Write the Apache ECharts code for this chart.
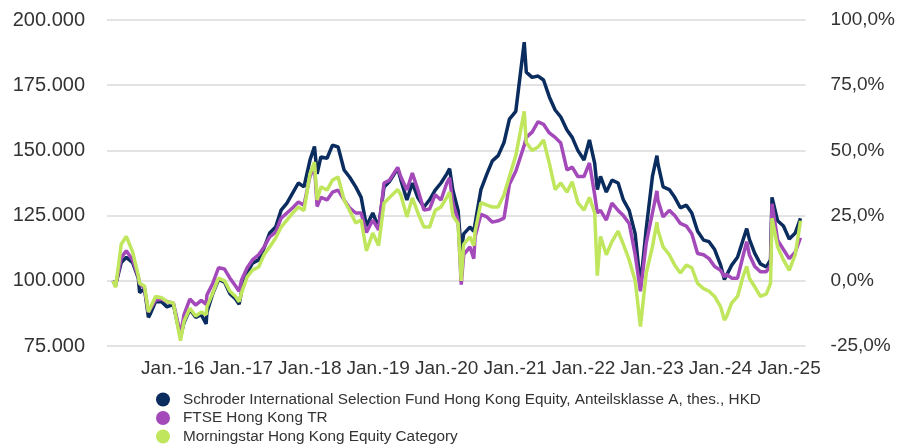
<!DOCTYPE html>
<html>
<head>
<meta charset="utf-8">
<script src="https://cdn.jsdelivr.net/npm/echarts@6/dist/echarts.min.js"></script>
<style>
  html, body { margin: 0; padding: 0; background: #fff; }
  #chart { width: 898px; height: 447px; }
</style>
</head>
<body>
<div id="chart"></div>
<script>
// growth of 100.000 (values in thousands)
var dates = [
  '2015-02-16','2015-03-02','2015-04-01','2015-04-28','2015-06-01','2015-07-01','2015-07-08','2015-08-03','2015-08-24','2015-09-01',
  '2015-10-01','2015-11-02','2015-12-01','2016-01-04','2016-02-11','2016-03-01','2016-04-01','2016-05-02','2016-06-01','2016-06-27',
  '2016-07-01','2016-08-01','2016-09-01','2016-10-03','2016-11-01','2016-12-01','2016-12-20','2017-01-02','2017-02-01','2017-03-01',
  '2017-04-03','2017-05-02','2017-06-01','2017-07-03','2017-08-01','2017-09-01','2017-10-02','2017-11-01','2017-12-01','2018-01-02',
  '2018-01-26','2018-02-09','2018-03-01','2018-04-03','2018-05-02','2018-06-01','2018-07-03','2018-08-01','2018-09-03','2018-10-02',
  '2018-10-30','2018-12-03','2019-01-03','2019-02-01','2019-03-01','2019-04-15','2019-05-02','2019-06-03','2019-07-02','2019-08-01',
  '2019-09-02','2019-10-02','2019-11-01','2019-12-02','2020-01-02','2020-01-17','2020-02-03','2020-03-02','2020-03-19','2020-04-01',
  '2020-05-04','2020-05-25','2020-06-01','2020-07-02','2020-08-03','2020-09-01','2020-10-02','2020-11-02','2020-12-01','2021-01-04',
  '2021-02-18','2021-03-01','2021-04-01','2021-05-03','2021-06-01','2021-07-02','2021-08-02','2021-09-01','2021-10-04','2021-11-01',
  '2021-12-01','2022-01-03','2022-02-01','2022-03-01','2022-03-15','2022-04-01','2022-05-02','2022-06-01','2022-07-04','2022-08-01',
  '2022-09-01','2022-10-03','2022-10-31','2022-12-01','2023-01-03','2023-01-27','2023-02-01','2023-03-01','2023-04-03','2023-05-02',
  '2023-06-01','2023-07-03','2023-08-01','2023-09-01','2023-10-03','2023-11-01','2023-12-01','2024-01-02','2024-01-22','2024-02-01',
  '2024-03-01','2024-04-01','2024-05-02','2024-05-20','2024-06-03','2024-07-02','2024-08-01','2024-09-02','2024-09-24','2024-10-02',
  '2024-11-01','2024-12-02','2025-01-02','2025-02-03','2025-03-03'
];

var fund = [
  100, 98.5, 107, 109, 107, 101, 95.5, 97, 86, 87,
  92, 92, 90, 91, 78.5, 84, 89, 86, 87, 83.5,
  88, 95, 100.5, 99.5, 95, 93, 91, 96, 103, 106.8,
  108, 112.6, 118.3, 120.6, 127.1, 129.8, 133.7, 137.5, 136, 146.3,
  151.5, 141, 147.5, 147, 152, 151.3, 142.5, 139.8, 136, 132,
  121, 126, 120.5, 136, 138, 143, 138.6, 131, 137.5, 131.8,
  128.3, 131, 134.8, 137.5, 141, 143, 134.8, 127, 111.5, 118,
  120.6, 119, 122, 135, 141, 146, 148, 153, 162, 165,
  191.5, 180, 178, 178.5, 177, 170.5, 165.5, 162.8, 157.8, 155,
  150, 146.3, 154, 145, 135, 140, 134, 138.6, 137.5, 131,
  127, 118, 98, 120, 140, 148, 145, 136, 135, 132,
  128, 129, 126, 119, 115.6, 115, 112, 106, 100.5, 101,
  106, 109, 116, 120, 116, 110.5, 106.5, 105.3, 108, 132,
  123, 121, 116, 118.3, 124
];

var ftse = [
  100, 98, 109, 111.5, 108, 101.5, 99, 97, 88, 88,
  92.5, 93, 92, 91.5, 79.5, 87, 93, 90.7, 92.5, 91,
  94.5, 99, 105, 104.5, 101, 98, 96, 100.3, 105, 108,
  110, 113, 116.8, 118.7, 124, 126, 128, 130.2, 129, 140,
  144, 128.5, 132, 131, 134, 134.8, 131, 128, 126, 126,
  118.5, 123.3, 119.5, 137.5, 138.5, 143.5, 139.8, 134.8, 141.3, 134.8,
  127.1, 127.5, 133, 131, 137.5, 139.5, 129.8, 123.3, 98.5, 110,
  113, 108.5, 117, 125.5, 124.5, 122.5, 123, 124, 137, 142,
  152, 155, 157, 161, 160, 156.7, 155, 152.8, 142.5, 143.6,
  140, 140, 145.2, 133, 126, 127, 123.3, 129.8, 127, 125,
  122, 110, 96, 114.5, 126, 134.5, 131, 124.5, 127, 125,
  122, 121, 118, 110.5, 110, 108.5, 105.5, 104, 101.5, 102.5,
  101, 101, 110, 115, 110, 105.5, 103.5, 103.5, 106, 129.5,
  115.6, 112, 108.5, 111, 116.5
];

var category = [
  100, 97.5, 114, 117, 111, 102, 99, 98, 88, 88,
  94, 93.5, 92, 91.5, 77, 84.5, 89.5, 86.5, 88, 87,
  90, 95.3, 101, 100, 96, 94, 92, 95.5, 101.5, 104.1,
  105.3, 110, 113, 116.4, 120.6, 123.3, 126, 128.3, 127, 141,
  145.5, 131, 136, 134.8, 138.6, 139.8, 131, 127, 122.2, 123.3,
  111.5, 118.3, 113.5, 129.8, 131.8, 135, 132.9, 124.5, 131.8, 126,
  120.6, 120.6, 127, 128.3, 132, 134, 125, 122, 100, 114,
  116.8, 113.5, 119, 130, 129, 128.3, 128.3, 133, 140, 148,
  165, 153, 150, 151.3, 154, 145, 135, 137.5, 134, 138,
  130, 127.1, 132, 126, 102, 117, 110, 115, 119, 114,
  108, 100, 82.5, 103, 113, 122.5, 119.5, 113, 110, 106,
  103, 106, 105, 99, 97, 96, 94, 90, 85, 86,
  91.5, 94, 102, 105.5, 101, 97.7, 94, 95, 99, 124,
  113, 108, 104, 110, 123
];

var names = [
  'Schroder International Selection Fund Hong Kong Equity, Anteilsklasse A, thes., HKD',
  'FTSE Hong Kong TR',
  'Morningstar Hong Kong Equity Category'
];
var colors = ['#0b2c5f', '#a349b9', '#bfe65c'];
var yearTicks = [2016, 2017, 2018, 2019, 2020, 2021, 2022, 2023, 2024, 2025];

function toTime(s) {
  var p = s.split('-');
  return Date.UTC(+p[0], +p[1] - 1, +p[2]);
}

function pairs(values) {
  var out = [];
  for (var i = 0; i < dates.length; i++) {
    out.push([toTime(dates[i]), values[i]]);
  }
  return out;
}

var font = 'Liberation Sans, Arial, sans-serif';
var myChart = echarts.init(document.getElementById('chart'));

var option = {
  animation: false,
  color: colors,
  grid: {
    left: 107,
    right: 90,
    top: 20,
    bottom: 101,
    containLabel: false
  },
  legend: {
    orient: 'vertical',
    left: 156,
    top: 392,
    height: 80,
    padding: 0,
    itemWidth: 14,
    itemHeight: 14,
    itemGap: 3.5,
    icon: 'circle',
    data: names,
    textStyle: {
      fontFamily: font,
      fontSize: 15.3,
      color: '#333',
      padding: [0, 0, 0, 8]
    }
  },
  xAxis: {
    type: 'value',
    min: Date.UTC(2015, 0, 15),
    max: Date.UTC(2025, 2, 30),
    axisLine: { show: false },
    axisTick: { show: false },
    splitLine: { show: false },
    axisLabel: {
      customValues: yearTicks.map(function (y) { return Date.UTC(y, 0, 1); }),
      formatter: function (v) {
        return 'Jan.-' + String(new Date(v).getUTCFullYear()).slice(2);
      },
      fontFamily: font,
      fontSize: 19,
      color: '#333',
      margin: 13
    }
  },
  yAxis: [{
    type: 'value',
    min: 75,
    max: 200,
    interval: 25,
    axisLine: { show: false },
    axisTick: { show: false },
    splitLine: { lineStyle: { color: '#dadada', width: 1.5 } },
    axisLabel: {
      formatter: function (v) { return v + '.000'; },
      fontFamily: font,
      fontSize: 20,
      color: '#333',
      margin: 22
    }
  }, {
    type: 'value',
    position: 'right',
    min: -25,
    max: 100,
    interval: 25,
    axisLine: { show: false },
    axisTick: { show: false },
    splitLine: { show: false },
    axisLabel: {
      formatter: function (v) { return v.toFixed(1).replace('.', ',') + '%'; },
      fontFamily: font,
      fontSize: 19,
      color: '#333',
      margin: 25
    }
  }],
  series: [fund, ftse, category].map(function (vals, i) {
    return {
      name: names[i],
      type: 'line',
      yAxisIndex: 0,
      data: pairs(vals),
      showSymbol: false,
      lineStyle: { width: 3.5, color: colors[i] },
      itemStyle: { color: colors[i] }
    };
  })
};

myChart.setOption(option);
</script>
</body>
</html>
